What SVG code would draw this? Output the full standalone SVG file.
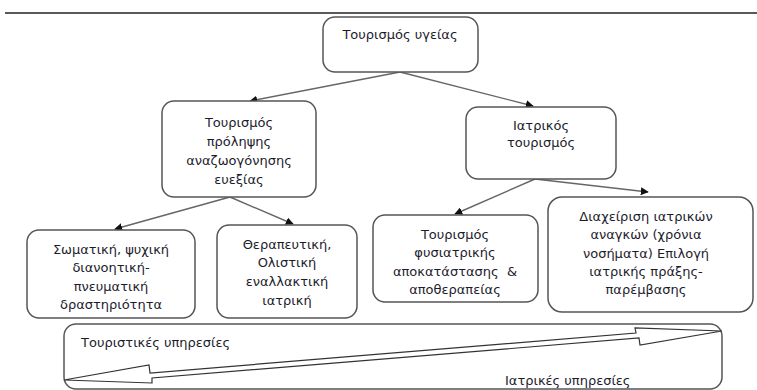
<svg xmlns="http://www.w3.org/2000/svg" width="757" height="390" viewBox="0 0 757 390">
<defs>
<style>
.box{fill:#fff;stroke:#555;stroke-width:1.5}
.t{font-family:"DejaVu Sans",sans-serif;font-size:13px;fill:#1c1c2c;text-anchor:middle}
.tl{font-family:"DejaVu Sans",sans-serif;font-size:13px;fill:#1c1c2c}
.c{stroke:#666;stroke-width:1.4;fill:none;marker-end:url(#ah)}
</style>
<marker id="ah" viewBox="0 0 10 10" refX="9" refY="5" markerWidth="8" markerHeight="8" markerUnits="userSpaceOnUse" orient="auto">
<path d="M0,0 L10,5 L0,10 z" fill="#111"/>
</marker>
</defs>
<rect width="757" height="390" fill="#fff"/>
<line x1="5" y1="13" x2="757" y2="13" stroke="#222" stroke-width="1.5"/>
<g id="connectors">
<line class="c" x1="400" y1="72" x2="250" y2="101"/>
<line class="c" x1="400" y1="72" x2="533" y2="106"/>
<line class="c" x1="230" y1="197" x2="115" y2="229"/>
<line class="c" x1="230" y1="197" x2="293" y2="224"/>
<line class="c" x1="535" y1="179" x2="455" y2="214"/>
<line class="c" x1="535" y1="179" x2="648" y2="192"/>
</g>
<g id="n-top">
<rect class="box" x="323" y="17" width="155" height="55" rx="12"/>
<text class="t" x="400" y="39">Τουρισμός υγείας</text>
</g>
<g id="n-prev">
<rect class="box" x="162" y="101" width="154" height="96" rx="12"/>
<text class="t" x="239" y="127">Τουρισμός</text>
<text class="t" x="239" y="146">πρόληψης</text>
<text class="t" x="239" y="165">αναζωογόνησης</text>
<text class="t" x="239" y="184">ευεξίας</text>
</g>
<g id="n-iatr">
<rect class="box" x="466" y="107" width="150" height="72" rx="12"/>
<text class="t" x="541" y="130">Ιατρικός</text>
<text class="t" x="541" y="147">τουρισμός</text>
</g>
<g id="n-som">
<rect class="box" x="27" y="230" width="168" height="88" rx="12"/>
<text class="t" x="111" y="254">Σωματική, ψυχική</text>
<text class="t" x="111" y="272">διανοητική-</text>
<text class="t" x="111" y="291">πνευματική</text>
<text class="t" x="111" y="309">δραστηριότητα</text>
</g>
<g id="n-ther">
<rect class="box" x="217" y="225" width="140" height="93" rx="12"/>
<text class="t" x="287" y="249">Θεραπευτική,</text>
<text class="t" x="287" y="267">Ολιστική</text>
<text class="t" x="287" y="286">εναλλακτική</text>
<text class="t" x="287" y="305">ιατρική</text>
</g>
<g id="n-fys">
<rect class="box" x="373" y="215" width="165" height="87" rx="12"/>
<text class="t" x="455" y="239">Τουρισμός</text>
<text class="t" x="455" y="257">φυσιατρικής</text>
<text class="t" x="455" y="276" xml:space="preserve">αποκατάστασης  &amp;</text>
<text class="t" x="455" y="294">αποθεραπείας</text>
</g>
<g id="n-diax">
<rect class="box" x="548" y="197" width="205" height="115" rx="14"/>
<text class="t" x="646" y="221">Διαχείριση ιατρικών</text>
<text class="t" x="646" y="239">αναγκών (χρόνια</text>
<text class="t" x="646" y="258">νοσήματα) Επιλογή</text>
<text class="t" x="646" y="276">ιατρικής πράξης-</text>
<text class="t" x="646" y="294">παρέμβασης</text>
</g>
<g id="n-services">
<rect class="box" x="64" y="324" width="658" height="65" rx="12"/>
<polygon points="64,380 149,365 150,373 636,333 635,328 722,331 640,345 639,338 152,378 152,383" fill="#fff" stroke="#333" stroke-width="1.2" stroke-linejoin="miter"/>
<text class="tl" x="81" y="347">Τουριστικές υπηρεσίες</text>
<text class="tl" x="505" y="385">Ιατρικές υπηρεσίες</text>
</g>
</svg>
